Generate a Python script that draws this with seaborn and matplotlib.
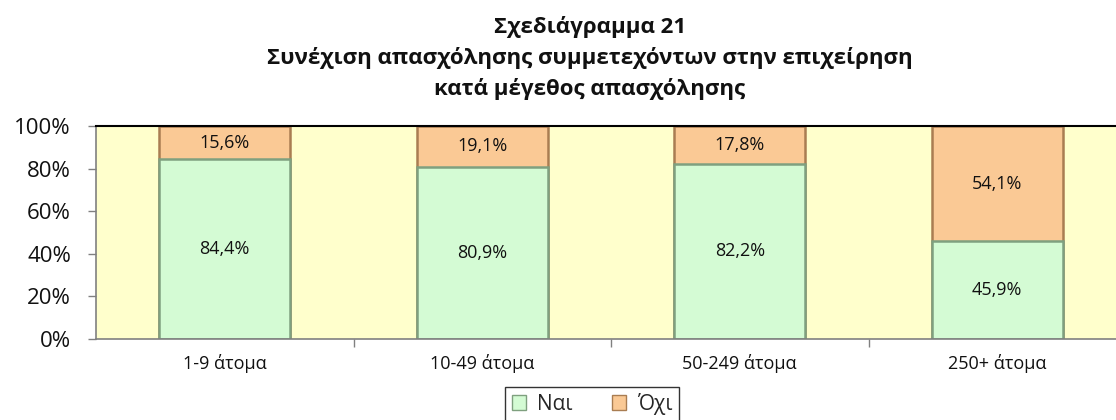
import matplotlib
matplotlib.use("Agg")
import matplotlib.pyplot as plt
from matplotlib.patches import Patch
from matplotlib.ticker import FixedLocator, PercentFormatter
import pandas as pd
import seaborn as sns

# Data
categories = ["1-9 άτομα", "10-49 άτομα", "50-249 άτομα", "250+ άτομα"]
nai = [84.4, 80.9, 82.2, 45.9]
oxi = [15.6, 19.1, 17.8, 54.1]
series_names = ["Ναι", "Όχι"]
title_lines = [
    "Σχεδιάγραμμα 21",
    "Συνέχιση απασχόλησης συμμετεχόντων στην επιχείρηση",
    "κατά μέγεθος απασχόλησης",
]

green = "#D4FBD4"
green_edge = "#7FA07F"
orange = "#FAC995"
orange_edge = "#A97D52"
bg = "#FFFFCC"

sns.set_theme(style="white")
plt.rcParams["font.family"] = ["Open Sans", "DejaVu Sans"]

df = pd.DataFrame({"cat": categories, "nai": nai, "oxi": oxi})
df["total"] = df["nai"] + df["oxi"]

fig = plt.figure(figsize=(11.16, 4.2), dpi=100)
ax = fig.add_axes([96 / 1116, 81 / 420, 1030 / 1116, 213 / 420])
ax.set_facecolor(bg)

# stacked bars: top segment drawn to the total, bottom segment over it
sns.barplot(data=df, x="cat", y="total", color=orange, saturation=1,
            width=0.51, edgecolor=orange_edge, linewidth=1.8, ax=ax)
sns.barplot(data=df, x="cat", y="nai", color=green, saturation=1,
            width=0.51, edgecolor=green_edge, linewidth=1.8, ax=ax)

# data labels
for i, (a, b) in enumerate(zip(nai, oxi)):
    ax.text(i, a / 2, f"{a:.1f}%".replace(".", ","), ha="center", va="center",
            fontsize=13, color="#111111")
    ax.text(i, a + b / 2, f"{b:.1f}%".replace(".", ","), ha="center", va="center",
            fontsize=13, color="#111111")

ax.set_xlim(-0.5, 3.5)
ax.set_ylim(0, 100)
ax.yaxis.set_major_locator(FixedLocator([0, 20, 40, 60, 80, 100]))
ax.yaxis.set_major_formatter(PercentFormatter(decimals=0))
ax.set_xlabel("")
ax.set_ylabel("")
ax.tick_params(axis="y", labelsize=16, length=6, width=1, color="#808080",
               left=True, pad=12, labelcolor="#111111")
ax.tick_params(axis="x", labelsize=13, length=0, pad=11, labelcolor="#111111")
ax.xaxis.set_minor_locator(FixedLocator([0.5, 1.5, 2.5]))
ax.tick_params(axis="x", which="minor", length=6, width=1, color="#808080", bottom=True)

for side in ["left", "bottom"]:
    ax.spines[side].set_color("#808080")
    ax.spines[side].set_linewidth(1.2)
ax.spines["top"].set_color("black")
ax.spines["top"].set_linewidth(1.5)
ax.spines["right"].set_color("black")

# title
for k, line in enumerate(title_lines):
    fig.text(590 / 1116, 1 - (33 + 31 * k) / 420, line, ha="center", va="baseline",
             fontsize=16, fontweight="bold", color="#111111")

handles = [Patch(facecolor=green, edgecolor=green_edge),
           Patch(facecolor=orange, edgecolor=orange_edge)]
leg = fig.legend(handles, series_names, loc="center", bbox_to_anchor=(592 / 1116, 1 - 404 / 420),
                 ncol=2, fontsize=15, frameon=True, fancybox=False, handlelength=0.7,
                 handleheight=0.7, handletextpad=0.5, columnspacing=1.9,
                 borderpad=0.3, edgecolor="black")
leg.get_frame().set_linewidth(1.0)

fig.savefig("out.png", dpi=100, facecolor="white")
